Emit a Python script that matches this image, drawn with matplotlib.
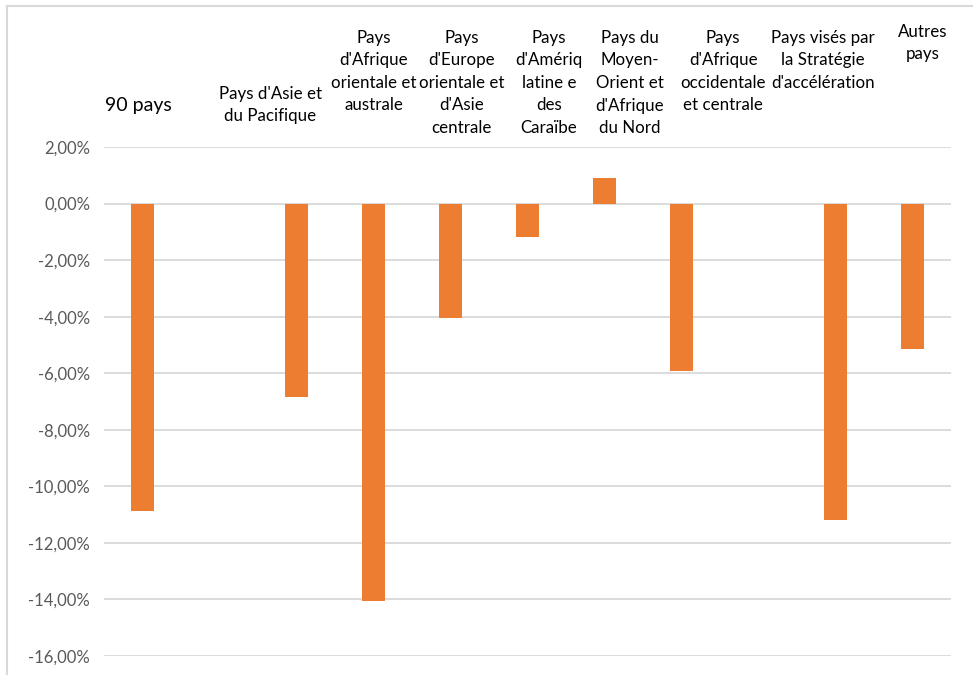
import numpy as np
import matplotlib
matplotlib.use("Agg")
import matplotlib.pyplot as plt
from matplotlib.lines import Line2D
from matplotlib.ticker import FuncFormatter
from matplotlib.transforms import blended_transform_factory

# 11 slots, two of them empty (as in the source sheet)
categories = ["90 pays", "", "Pays d'Asie et\ndu Pacifique",
              "Pays\nd'Afrique\norientale et\naustrale",
              "Pays\nd'Europe\norientale et\nd'Asie\ncentrale",
              "Pays\nd'Amériq\nlatine e\ndes\nCaraïbe",
              "Pays du\nMoyen-\nOrient et\nd'Afrique\ndu Nord",
              "Pays\nd'Afrique\noccidentale\net centrale",
              "", "Pays visés par\nla Stratégie\nd'accélération",
              "Autres\npays"]
values = [-10.87, np.nan, -6.83, -14.05, -4.04, -1.17, 0.92, -5.91, np.nan, -11.19, -5.13]
yticks = [2, 0, -2, -4, -6, -8, -10, -12, -14, -16]

# label placement (slot offsets / top of text in px) - layout only
label_dx = [-0.06, 0, -0.34, 0.0, 0.14, 0.28, 0.33, 0.54, 0, -0.16, 0.13]
label_top = [97, 0, 86, 30, 30, 30, 30, 30, 0, 30, 24]

plt.rcParams["font.family"] = ["Lato", "DejaVu Sans"]
W, H = 973, 675
fig = plt.figure(figsize=(W / 100, H / 100), dpi=100)
ax = fig.add_axes([104 / W, 1 - 656 / H, (951 - 104) / W, (656 - 147) / H])

x = np.arange(len(categories))
ax.bar(x, values, width=0.31, color="#ED7D31", zorder=3)
ax.set_xlim(-0.5, len(categories) - 0.5)
ax.set_ylim(-16, 2)
ax.set_yticks(yticks)
ax.yaxis.set_major_formatter(FuncFormatter(lambda v, p: f"{v:.2f}%".replace(".", ",")))
ax.tick_params(axis="y", length=0, pad=10, labelsize=12, labelcolor="#595959")
ax.set_xticks([])
ax.grid(axis="y", color="#d9d9d9", linewidth=1.3, zorder=0)
for s in ax.spines.values():
    s.set_visible(False)

tr = blended_transform_factory(ax.transData, fig.transFigure)
for i, lab in enumerate(categories):
    if not lab:
        continue
    fs = 14 if i == 0 else 12.2
    ax.text(i + label_dx[i], 1 - label_top[i] / H, lab, transform=tr,
            ha="center", va="top", fontsize=fs, color="#000000",
            linespacing=1.5, clip_on=False)

# outer chart border (top and left visible)
fig.add_artist(Line2D([7 / W, 1], [1 - 6 / H, 1 - 6 / H], color="#d9d9d9", lw=1.5))
fig.add_artist(Line2D([7 / W, 7 / W], [0, 1 - 6 / H], color="#d9d9d9", lw=1.5))

fig.savefig("out.png", dpi=100)
